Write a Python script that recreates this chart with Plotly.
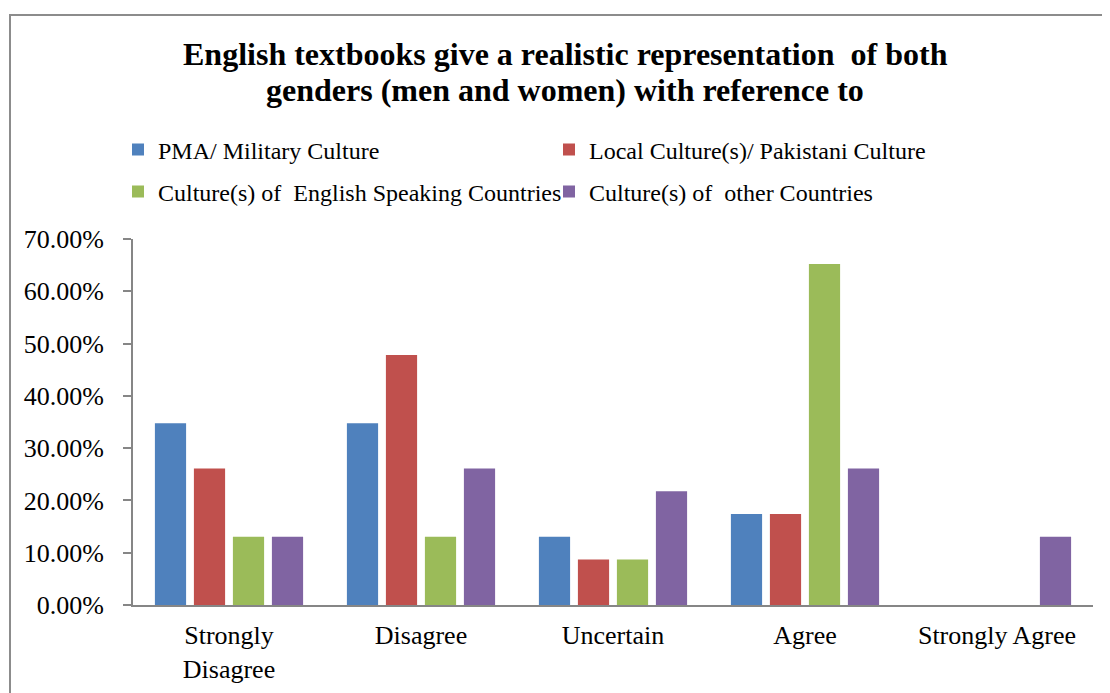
import plotly.graph_objects as go

categories = ["Strongly<br>Disagree", "Disagree", "Uncertain", "Agree", "Strongly Agree"]
series_names = [
    "PMA/ Military Culture",
    "Local Culture(s)/ Pakistani Culture",
    "Culture(s) of \u00a0English Speaking Countries",
    "Culture(s) of \u00a0other Countries",
]
pma = [0.3478, 0.3478, 0.1304, 0.1739, 0.0]
local = [0.2609, 0.4783, 0.0870, 0.1739, 0.0]
english = [0.1304, 0.1304, 0.0870, 0.6522, 0.0]
other = [0.1304, 0.2609, 0.2174, 0.2609, 0.1304]
colors = ["#4F81BD", "#C0504D", "#9BBB59", "#8064A2"]
legend_ids = ["legend", "legend", "legend2", "legend2"]

FONT = "Liberation Serif, Times New Roman, serif"

fig = go.Figure()
for name, vals, col, lg in zip(series_names, [pma, local, english, other], colors, legend_ids):
    fig.add_trace(go.Bar(x=categories, y=vals, name=name, marker_color=col,
                         marker_line_width=0, legend=lg))

OFF = 8  # page body margin
W, H = 1110, 693
L, T = 133 - OFF, 239 - OFF
R = W - (1093 - OFF)
B = H - (605 - OFF)
pw, ph = W - L - R, H - T - B

def px(x):
    return (x - OFF - L) / pw

def py(y):
    return (H - B - (y - OFF)) / ph

fig.update_layout(
    width=W, height=H,
    margin=dict(l=L, r=R, t=T, b=B),
    paper_bgcolor="white", plot_bgcolor="white",
    font=dict(family=FONT, color="black", size=26),
    bargap=0.1875, bargroupgap=0.2,
    showlegend=True,
    legend=dict(orientation="h", x=px(118), y=py(150), xanchor="left", yanchor="middle",
                font=dict(size=24, family=FONT), entrywidth=386, entrywidthmode="pixels",
                bgcolor="rgba(0,0,0,0)"),
    legend2=dict(orientation="h", x=px(118), y=py(192), xanchor="left", yanchor="middle",
                 font=dict(size=24, family=FONT), entrywidth=386, entrywidthmode="pixels",
                 bgcolor="rgba(0,0,0,0)"),
    xaxis=dict(showline=True, linecolor="#868686", linewidth=2, ticks="",
               tickfont=dict(size=26, family=FONT), showgrid=False, ticklabelstandoff=6),
    yaxis=dict(range=[0, 0.7], dtick=0.1, tickformat=".2%", showline=True,
               linecolor="#868686", linewidth=2, ticks="outside", ticklen=8,
               tickcolor="#868686", tickwidth=2, showgrid=False, zeroline=False,
               tickfont=dict(size=26, family=FONT), ticklabelstandoff=14),
)

fig.add_annotation(text="<b>English textbooks give a realistic representation \u00a0of both</b>",
                   xref="paper", yref="paper", x=px(565), y=py(54), xanchor="center",
                   yanchor="middle", showarrow=False, font=dict(size=32, family=FONT))
fig.add_annotation(text="<b>genders (men and women) with reference to</b>",
                   xref="paper", yref="paper", x=px(565), y=py(90), xanchor="center",
                   yanchor="middle", showarrow=False, font=dict(size=32, family=FONT))

fig.add_shape(type="rect", xref="paper", yref="paper", x0=px(10), x1=px(1130),
              y0=py(715), y1=py(15), line=dict(color="#8C8C8C", width=2),
              fillcolor="rgba(0,0,0,0)", layer="below")

fig.write_html("out.html")
